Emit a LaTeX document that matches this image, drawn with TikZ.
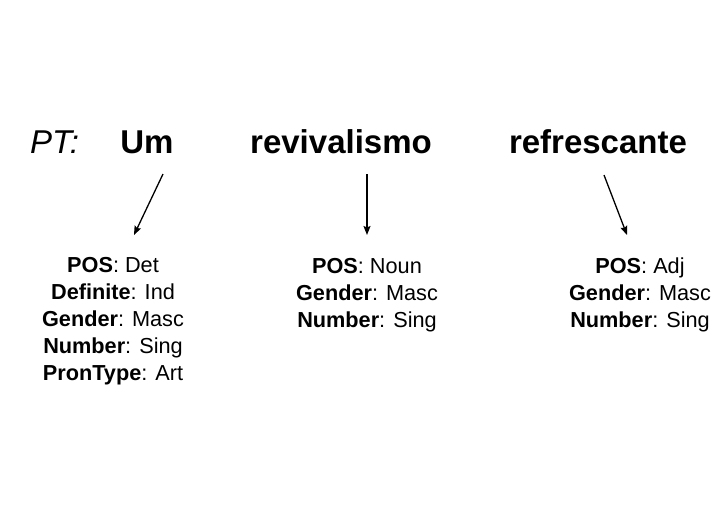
\documentclass[tikz,border=0pt]{standalone}
\usepackage{fontspec}
\setmainfont{Liberation Sans}
\usetikzlibrary{arrows.meta}
\begin{document}
\begin{tikzpicture}[x=1pt,y=-1pt,
  word/.style={inner sep=0pt,anchor=base,font=\fontsize{33}{40}\selectfont\bfseries},
  feats/.style={inner sep=0pt,anchor=base,align=center,font=\fontsize{21.7}{27.2}\selectfont},
  link/.style={line width=1.3pt,-{Stealth[length=9pt,width=7pt,inset=1.5pt]}}]
\useasboundingbox (0,0) rectangle (720,509);
\node[word,font=\fontsize{33}{40}\selectfont\itshape,anchor=base west] (pt) at (30,153) {PT:};
\node[word] (um) at (147,153) {Um};
\node[word] (rev) at (341,153) {revivalismo};
\node[word] (ref) at (598,153) {refrescante};
% base anchor of a multi-line node is the baseline of its last line
\node[feats] (f1) at (113,380.8) {\textbf{POS}: Det\\\textbf{Definite}: Ind\\\textbf{Gender}: Masc\\\textbf{Number}: Sing\\\textbf{PronType}: Art};
\node[feats] (f2) at (367,327.4) {\textbf{POS}: Noun\\\textbf{Gender}: Masc\\\textbf{Number}: Sing};
\node[feats] (f3) at (640,327.4) {\textbf{POS}: Adj\\\textbf{Gender}: Masc\\\textbf{Number}: Sing};
\coordinate (a1s) at (163,174);
\coordinate (a1e) at (134,235);
\coordinate (a2s) at (367,174);
\coordinate (a2e) at (367,235);
\coordinate (a3s) at (604,175);
\coordinate (a3e) at (627,235);
\draw[link] (a1s) -- (a1e);
\draw[link] (a2s) -- (a2e);
\draw[link] (a3s) -- (a3e);
\end{tikzpicture}
\end{document}
